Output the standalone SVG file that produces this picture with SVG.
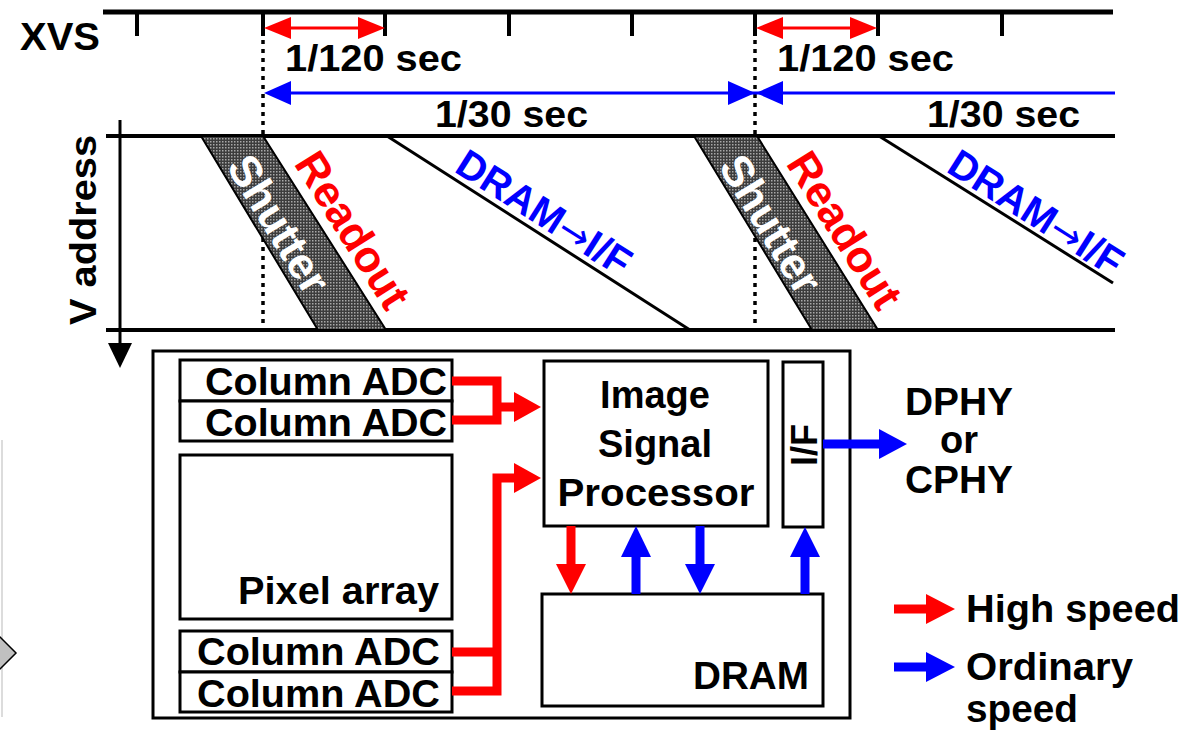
<svg xmlns="http://www.w3.org/2000/svg" width="1201" height="740" viewBox="0 0 1201 740">
<style>
.t{font-family:"Liberation Sans",Arial,sans-serif;font-weight:bold;}
.ar{font-family:"DejaVu Sans",sans-serif;font-weight:normal;}
.k{stroke:#000;fill:none;}
.dot{stroke:#000;stroke-width:3.5;stroke-dasharray:4 5;fill:none;}
.box{stroke:#000;stroke-width:3;fill:#fff;}
.red{stroke:#ff0000;fill:none;}
.blue{stroke:#0000ff;fill:none;}
.rf{fill:#ff0000;}
.bf{fill:#0000ff;}
</style>
<defs>
<pattern id="dots" width="3" height="3" patternUnits="userSpaceOnUse">
<rect width="3" height="3" fill="#3c3c3c"/>
<rect x="0" y="0" width="1.5" height="1.5" fill="#a8a8a8"/>
</pattern>
</defs>
<rect width="1201" height="740" fill="#fff"/>

<!-- left edge artifact -->
<g id="edge-artifact">
<line x1="2" y1="440" x2="2" y2="717" stroke="#dcdcdc" stroke-width="2"/>
<polygon points="-3,634 16,653 -3,672" fill="#c0c0c0" stroke="#000" stroke-width="1.5"/>
</g>

<!-- timing chart -->
<g id="xvs">
<text class="t" x="20" y="50" font-size="38" textLength="80" lengthAdjust="spacingAndGlyphs">XVS</text>
<line class="k" x1="103" y1="12" x2="1113" y2="12" stroke-width="5"/>
<path class="k" stroke-width="4" d="M137,12V36M263,12V36M385,12V36M509,12V36M632,12V36M755,12V36M878,12V36M1002,12V36"/>
</g>

<g id="sync-lines">
<line class="dot" x1="263" y1="40" x2="263" y2="326"/>
<line class="dot" x1="755" y1="40" x2="755" y2="326"/>
</g>

<g id="period-120a">
<line class="red" x1="288" y1="28" x2="362" y2="28" stroke-width="3"/>
<polygon class="rf" points="264,28 291,17 291,39"/>
<polygon class="rf" points="385,28 358,17 358,39"/>
<text class="t" x="285" y="71" font-size="36" textLength="177" lengthAdjust="spacingAndGlyphs">1/120 sec</text>
</g>
<g id="period-120b">
<line class="red" x1="780" y1="28" x2="854" y2="28" stroke-width="3"/>
<polygon class="rf" points="756,28 783,17 783,39"/>
<polygon class="rf" points="877,28 850,17 850,39"/>
<text class="t" x="777" y="71" font-size="36" textLength="177" lengthAdjust="spacingAndGlyphs">1/120 sec</text>
</g>
<g id="period-30">
<line class="blue" x1="288" y1="93" x2="1115" y2="93" stroke-width="3"/>
<polygon class="bf" points="264,93 291,81 291,105"/>
<polygon class="bf" points="755,93 728,81 728,105"/>
<polygon class="bf" points="756,93 783,81 783,105"/>
<text class="t" x="435" y="127" font-size="36" textLength="153" lengthAdjust="spacingAndGlyphs">1/30 sec</text>
<text class="t" x="927" y="127" font-size="36" textLength="153" lengthAdjust="spacingAndGlyphs">1/30 sec</text>
</g>

<g id="vaddress">
<line class="k" x1="120" y1="120" x2="120" y2="346" stroke-width="3"/>
<polygon points="108,343 132,343 120,368" fill="#000"/>
<line class="k" x1="106" y1="136" x2="1115" y2="136" stroke-width="4"/>
<line class="k" x1="106" y1="330" x2="1115" y2="330" stroke-width="4"/>
<text class="t" transform="translate(96,230) rotate(-90)" text-anchor="middle" font-size="37" textLength="190" lengthAdjust="spacingAndGlyphs">V address</text>
</g>

<g id="frame1">
<polygon points="201,136 263,136 386,330 318,330" fill="url(#dots)" stroke="#000" stroke-width="2"/>
<text class="t" transform="translate(279,224) rotate(58.5)" text-anchor="middle" dy="0.35em" font-size="44" fill="#fff">Shutter</text>
<text class="t" transform="translate(353,230) rotate(58)" text-anchor="middle" dy="0.35em" font-size="44" fill="#ff0000">Readout</text>
<line class="k" x1="387" y1="136" x2="690" y2="330" stroke-width="3"/>
<text class="t" transform="translate(453,171) rotate(32.5)" font-size="40" fill="#0000ff">DRAM<tspan class="ar" font-size="38">→</tspan>I/F</text>
</g>
<g id="frame2">
<polygon points="694,136 757,136 878,330 812,330" fill="url(#dots)" stroke="#000" stroke-width="2"/>
<text class="t" transform="translate(771,224) rotate(58.5)" text-anchor="middle" dy="0.35em" font-size="44" fill="#fff">Shutter</text>
<text class="t" transform="translate(845,230) rotate(58)" text-anchor="middle" dy="0.35em" font-size="44" fill="#ff0000">Readout</text>
<line class="k" x1="879" y1="136" x2="1113" y2="283" stroke-width="3"/>
<text class="t" transform="translate(945,171) rotate(32.5)" font-size="40" fill="#0000ff">DRAM<tspan class="ar" font-size="38">→</tspan>I/F</text>
</g>

<!-- block diagram -->
<g id="sensor-chip"><rect class="box" x="153" y="351" width="697" height="367"/></g>
<g id="adc1"><rect class="box" x="180" y="360" width="272" height="41"/>
<text class="t" x="447" y="395" text-anchor="end" font-size="38" textLength="242" lengthAdjust="spacingAndGlyphs">Column ADC</text></g>
<g id="adc2"><rect class="box" x="180" y="401" width="272" height="40"/>
<text class="t" x="447" y="436" text-anchor="end" font-size="38" textLength="242" lengthAdjust="spacingAndGlyphs">Column ADC</text></g>
<g id="pixel-array"><rect class="box" x="180" y="455" width="272" height="164"/>
<text class="t" x="439" y="604" text-anchor="end" font-size="38" textLength="201" lengthAdjust="spacingAndGlyphs">Pixel array</text></g>
<g id="adc3"><rect class="box" x="180" y="631" width="272" height="41"/>
<text class="t" x="440" y="665" text-anchor="end" font-size="38" textLength="243" lengthAdjust="spacingAndGlyphs">Column ADC</text></g>
<g id="adc4"><rect class="box" x="180" y="672" width="272" height="40"/>
<text class="t" x="440" y="707" text-anchor="end" font-size="38" textLength="243" lengthAdjust="spacingAndGlyphs">Column ADC</text></g>
<g id="isp"><rect class="box" x="544" y="361" width="224" height="165"/>
<text class="t" x="655" y="408" text-anchor="middle" font-size="38">Image</text>
<text class="t" x="655" y="457" text-anchor="middle" font-size="38">Signal</text>
<text class="t" x="656" y="506" text-anchor="middle" font-size="38" textLength="197" lengthAdjust="spacingAndGlyphs">Processor</text></g>
<g id="if"><rect class="box" x="783" y="362" width="40" height="165"/>
<text class="t" transform="translate(817,445) rotate(-90)" text-anchor="middle" font-size="36">I/F</text></g>
<g id="dram"><rect class="box" x="542" y="594" width="281" height="112"/>
<text class="t" x="809" y="689" text-anchor="end" font-size="38" textLength="116" lengthAdjust="spacingAndGlyphs">DRAM</text></g>
<g id="phy">
<text class="t" x="959" y="415" text-anchor="middle" font-size="38" textLength="108" lengthAdjust="spacingAndGlyphs">DPHY</text>
<text class="t" x="959" y="453" text-anchor="middle" font-size="38">or</text>
<text class="t" x="959" y="493" text-anchor="middle" font-size="38" textLength="108" lengthAdjust="spacingAndGlyphs">CPHY</text>
</g>

<g id="connectors">
<path class="red" stroke-width="9" stroke-linejoin="miter" d="M452,381H497V420H452M497,407H516"/>
<polygon class="rf" points="514,392 541,407 514,422"/>
<path class="red" stroke-width="9" stroke-linejoin="miter" d="M452,652H497M452,691H497V478H516"/>
<polygon class="rf" points="514,463 541,478 514,493"/>
<line class="red" stroke-width="9" x1="571" y1="526" x2="571" y2="566"/>
<polygon class="rf" points="556,564 586,564 571,594"/>
<line class="blue" stroke-width="9" x1="636" y1="594" x2="636" y2="555"/>
<polygon class="bf" points="621,557 651,557 636,526"/>
<line class="blue" stroke-width="9" x1="700" y1="526" x2="700" y2="566"/>
<polygon class="bf" points="685,564 715,564 700,594"/>
<line class="blue" stroke-width="9" x1="805" y1="594" x2="805" y2="555"/>
<polygon class="bf" points="790,557 820,557 805,527"/>
<line class="blue" stroke-width="9" x1="823" y1="444" x2="881" y2="444"/>
<polygon class="bf" points="879,429 907,444 879,459"/>
</g>

<g id="legend">
<line class="red" stroke-width="9" x1="894" y1="609" x2="928" y2="609"/>
<polygon class="rf" points="926,594 955,609 926,624"/>
<text class="t" x="966" y="622" font-size="38" textLength="214" lengthAdjust="spacingAndGlyphs">High speed</text>
<line class="blue" stroke-width="9" x1="894" y1="667" x2="928" y2="667"/>
<polygon class="bf" points="926,652 955,667 926,682"/>
<text class="t" x="966" y="680" font-size="38" textLength="167" lengthAdjust="spacingAndGlyphs">Ordinary</text>
<text class="t" x="966" y="722" font-size="38" textLength="112" lengthAdjust="spacingAndGlyphs">speed</text>
</g>
</svg>
